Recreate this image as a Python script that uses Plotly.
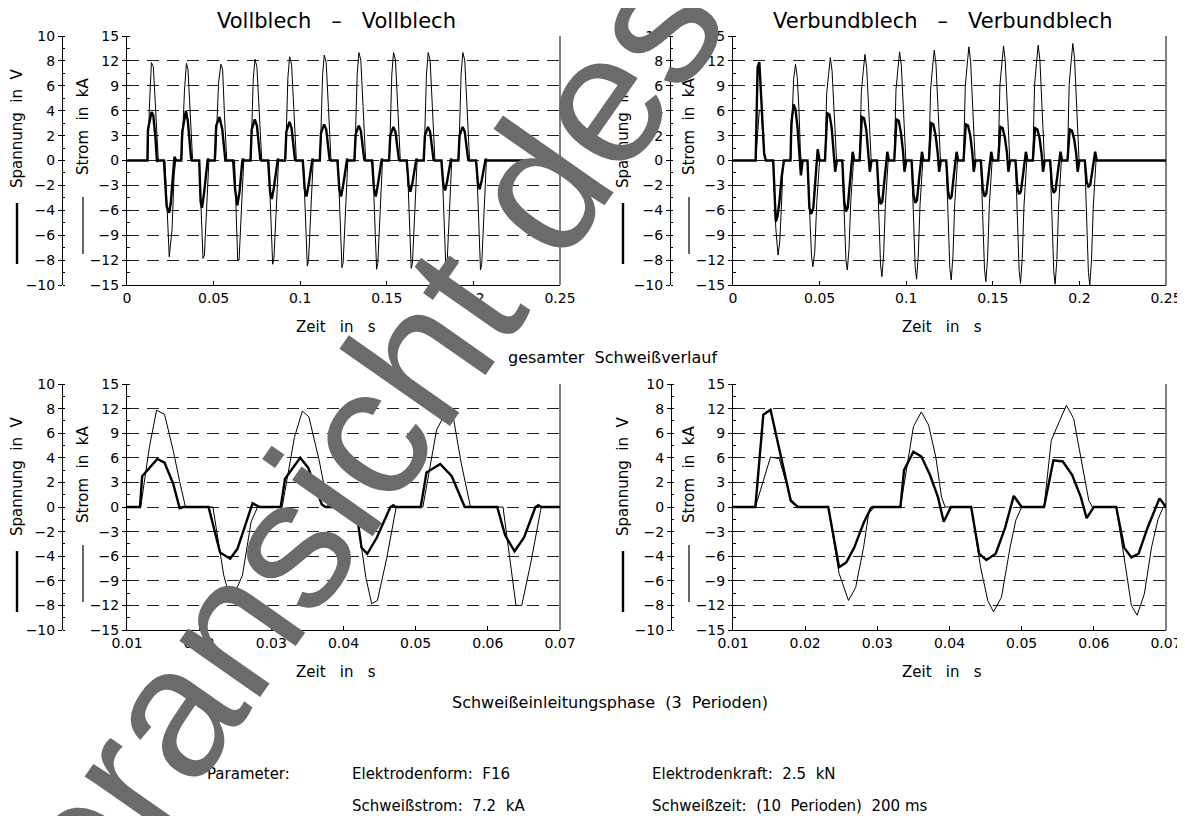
import plotly.graph_objects as go

# page body has an 8px margin: figure is sized so that it exactly fills the window
PAGE_W, PAGE_H = 1185, 816
OFF = 8
W, H = PAGE_W - OFF, PAGE_H - OFF

# ---------------- data (time in ms, current in kA, voltage in V) ----------------
VOLL_STROM_T = [0,
    11.9, 13.1, 14.1, 15.2, 16.4, 17.3, 18.1,
    21.9, 23.4, 24.4, 26.0, 27.2, 28.1,
    31.5, 33.2, 34.3, 35.2, 36.6, 37.9,
    41.7, 43.1, 43.9, 44.7, 46.0, 47.3,
    51.0, 52.9, 54.2, 55.2, 56.3, 57.6,
    62.1, 63.4, 63.9, 64.7, 66.0, 67.4,
    71.5, 72.9, 73.9, 75.0, 76.3, 77.8,
    81.8, 83.2, 84.1, 84.8, 86.0, 87.5,
    91.5, 92.9, 93.9, 95.0, 96.3, 97.8,
    101.8, 103.2, 104.1, 104.8, 106.0, 107.5,
    111.5, 112.9, 113.9, 115.0, 116.3, 117.8,
    121.8, 123.2, 124.1, 124.8, 126.0, 127.5,
    131.5, 132.9, 133.9, 135.0, 136.3, 137.8,
    141.8, 143.2, 144.1, 144.8, 146.0, 147.5,
    151.5, 152.9, 153.9, 155.0, 156.3, 157.8,
    161.8, 163.2, 164.1, 164.8, 166.0, 167.5,
    171.5, 172.9, 173.9, 175.0, 176.3, 177.8,
    181.8, 183.2, 184.1, 184.8, 186.0, 187.5,
    191.5, 192.9, 193.9, 195.0, 196.3, 197.8,
    201.8, 203.2, 204.1, 204.8, 206.0, 207.5,
    250]
VOLL_STROM = [0,
    0, 7.3, 11.8, 11.3, 6.9, 3.1, 0,
    0, -8.3, -11.6, -8.3, -1.8, 0,
    0, 8.5, 11.7, 11.0, 5.8, 0,
    0, -8.6, -11.8, -11.4, -6.2, 0,
    0, 9.4, 11.6, 11.0, 5.4, 0,
    0, -8.6, -12.0, -12.0, -6.6, 0,
    0, 9.8, 12.2, 11.3, 6.1, 0,
    0, -9.0, -12.5, -11.9, -6.3, 0,
    0, 10.0, 12.5, 11.6, 6.3, 0,
    0, -9.1, -12.7, -12.1, -6.4, 0,
    0, 10.2, 12.7, 11.8, 6.4, 0,
    0, -9.3, -12.9, -12.3, -6.5, 0,
    0, 10.4, 13.0, 12.1, 6.5, 0,
    0, -9.4, -13.1, -12.4, -6.6, 0,
    0, 10.4, 13.0, 12.1, 6.5, 0,
    0, -9.4, -13.0, -12.4, -6.5, 0,
    0, 10.4, 13.0, 12.1, 6.5, 0,
    0, -9.4, -13.0, -12.4, -6.5, 0,
    0, 10.4, 13.0, 12.1, 6.5, 0,
    0, -9.5, -13.2, -12.5, -6.6, 0,
    0]

VOLL_SPANNUNG_T = [0,
    11.8, 12.1, 13.1, 14.2, 15.2, 16.4, 17.3, 17.8,
    21.3, 22.9, 24.3, 25.3, 27.4, 28.4,
    31.3, 31.9, 34.0, 35.1, 37.0, 37.5,
    41.7, 42.5, 43.3, 44.6, 46.5, 46.9, 47.2,
    50.7, 51.5, 53.4, 55.0, 56.8,
    61.3, 62.4, 63.7, 65.0, 66.6, 67.0, 67.4,
    71.3, 72.0, 73.8, 75.0, 77.0, 77.5,
    81.5, 82.6, 83.6, 84.8, 86.7, 87.1, 87.5,
    91.3, 92.0, 93.8, 95.0, 97.0, 97.5,
    101.5, 102.6, 103.6, 104.8, 106.7, 107.1, 107.5,
    111.3, 112.0, 113.8, 115.0, 117.0, 117.5,
    121.5, 122.6, 123.6, 124.8, 126.7, 127.1, 127.5,
    131.3, 132.0, 133.8, 135.0, 137.0, 137.5,
    141.5, 142.6, 143.6, 144.8, 146.7, 147.1, 147.5,
    151.3, 152.0, 153.8, 155.0, 157.0, 157.5,
    161.5, 162.6, 163.6, 164.8, 166.7, 167.1, 167.5,
    171.3, 172.0, 173.8, 175.0, 177.0, 177.5,
    181.5, 182.6, 183.6, 184.8, 186.7, 187.1, 187.5,
    191.3, 192.0, 193.8, 195.0, 197.0, 197.5,
    201.5, 202.6, 203.6, 204.8, 206.7, 207.1, 207.5,
    250]
VOLL_SPANNUNG = [0,
    0, 2.5, 3.2, 3.9, 3.6, 1.9, -0.1, 0,
    0, -3.7, -4.2, -3.4, 0.3, 0,
    0, 2.3, 4.0, 3.2, 0.2, 0,
    0, -3.3, -3.8, -2.5, 0, 0.15, 0,
    0, 2.8, 3.5, 2.5, 0,
    0, -2.3, -3.6, -2.5, 0, 0.15, 0,
    0, 2.5, 3.3, 2.8, 0.05, 0,
    0, -2.5, -3.1, -2.2, 0, 0.15, 0,
    0, 2.3, 3.1, 2.6, 0.05, 0,
    0, -2.3, -2.9, -2.0, 0, 0.15, 0,
    0, 2.2, 2.9, 2.5, 0.05, 0,
    0, -2.3, -2.9, -2.0, 0, 0.15, 0,
    0, 2.1, 2.8, 2.4, 0.05, 0,
    0, -2.3, -2.9, -2.0, 0, 0.15, 0,
    0, 2.0, 2.7, 2.3, 0.05, 0,
    0, -2.0, -2.5, -1.8, 0, 0.15, 0,
    0, 2.0, 2.7, 2.3, 0.05, 0,
    0, -1.9, -2.4, -1.7, 0, 0.15, 0,
    0, 2.0, 2.7, 2.3, 0.05, 0,
    0, -1.8, -2.3, -1.6, 0, 0.15, 0,
    0]

VERB_STROM_T = [0,
    13.1, 15.2, 16.4, 18.0, 19.0,
    23.2, 24.7, 26.0, 27.0, 28.1, 28.8, 29.6,
    33.2, 35.0, 36.1, 37.1, 38.1, 38.9, 39.4,
    43.0, 44.3, 45.3, 46.1, 47.2, 48.4, 49.2, 50.0,
    53.1, 54.1, 55.2, 56.2, 57.2, 58.2, 59.3, 59.8,
    63.1, 64.4, 65.2, 66.0, 67.0, 68.0, 68.9, 69.6,
    73.1, 74.1, 75.2, 76.2, 77.2, 78.2, 79.3, 79.8,
    83.1, 84.4, 85.2, 86.0, 87.0, 88.0, 88.9, 89.6,
    93.1, 94.1, 95.2, 96.2, 97.2, 98.2, 99.3, 99.8,
    103.1, 104.4, 105.2, 106.0, 107.0, 108.0, 108.9, 109.6,
    113.1, 114.1, 115.2, 116.2, 117.2, 118.2, 119.3, 119.8,
    123.1, 124.4, 125.2, 126.0, 127.0, 128.0, 128.9, 129.6,
    133.1, 134.1, 135.2, 136.2, 137.2, 138.2, 139.3, 139.8,
    143.1, 144.4, 145.2, 146.0, 147.0, 148.0, 148.9, 149.6,
    153.1, 154.1, 155.2, 156.2, 157.2, 158.2, 159.3, 159.8,
    163.1, 164.4, 165.2, 166.0, 167.0, 168.0, 168.9, 169.6,
    173.1, 174.1, 175.2, 176.2, 177.2, 178.2, 179.3, 179.8,
    183.1, 184.4, 185.2, 186.0, 187.0, 188.0, 188.9, 189.6,
    193.1, 194.1, 195.2, 196.2, 197.2, 198.2, 199.3, 199.8,
    203.1, 204.4, 205.2, 206.0, 207.0, 208.0, 208.9, 209.6,
    250]
VERB_STROM = [0,
    0, 6.1, 5.9, 1.0, 0,
    0, -8.1, -11.4, -9.8, -4.9, -0.8, 0,
    0, 9.8, 11.6, 10.0, 6.1, 1.2, 0,
    0, -7.3, -11.4, -12.8, -11.0, -4.9, -1.6, 0,
    0, 8.1, 10.4, 12.4, 10.8, 6.1, 0.8, 0,
    0, -7.3, -12.0, -13.2, -10.6, -4.9, -1.5, 0,
    0, 8.3, 10.8, 12.8, 11.1, 6.3, 0.8, 0,
    0, -7.7, -12.6, -14.0, -11.2, -5.2, -1.5, 0,
    0, 8.5, 11.0, 13.1, 11.4, 6.4, 0.8, 0,
    0, -7.9, -12.9, -14.3, -11.4, -5.3, -1.6, 0,
    0, 8.6, 11.2, 13.3, 11.6, 6.5, 0.8, 0,
    0, -7.9, -13.0, -14.4, -11.5, -5.3, -1.6, 0,
    0, 8.9, 11.5, 13.7, 11.9, 6.7, 0.8, 0,
    0, -8.0, -13.1, -14.6, -11.7, -5.4, -1.6, 0,
    0, 9.0, 11.6, 13.8, 12.0, 6.8, 0.8, 0,
    0, -8.1, -13.3, -14.8, -11.8, -5.5, -1.6, 0,
    0, 9.0, 11.7, 13.9, 12.1, 6.8, 0.8, 0,
    0, -8.2, -13.4, -14.9, -11.9, -5.5, -1.6, 0,
    0, 9.2, 11.8, 14.1, 12.3, 6.9, 0.8, 0,
    0, -8.3, -13.5, -15.0, -12.0, -5.6, -1.7, 0,
    0]

VERB_SPANNUNG_T = [0,
    13.1, 14.2, 15.2, 18.0, 19.0,
    23.2, 24.7, 25.7, 26.8, 28.1, 29.1, 29.4,
    33.2, 33.7, 35.0, 36.1, 37.3, 38.4, 39.2, 40.2,
    43.0, 44.1, 45.1, 46.4, 47.7, 48.9, 50.0,
    53.1, 54.4, 55.7, 57.0, 58.2, 59.0, 60.0,
    63.1, 64.2, 65.2, 66.2, 67.5, 69.1, 70.0,
    73.1, 74.4, 75.7, 77.0, 78.2, 79.0, 80.0,
    83.1, 84.2, 85.2, 86.2, 87.5, 89.1, 90.0,
    93.1, 94.4, 95.7, 97.0, 98.2, 99.0, 100.0,
    103.1, 104.2, 105.2, 106.2, 107.5, 109.1, 110.0,
    113.1, 114.4, 115.7, 117.0, 118.2, 119.0, 120.0,
    123.1, 124.2, 125.2, 126.2, 127.5, 129.1, 130.0,
    133.1, 134.4, 135.7, 137.0, 138.2, 139.0, 140.0,
    143.1, 144.2, 145.2, 146.2, 147.5, 149.1, 150.0,
    153.1, 154.4, 155.7, 157.0, 158.2, 159.0, 160.0,
    163.1, 164.2, 165.2, 166.2, 167.5, 169.1, 170.0,
    173.1, 174.4, 175.7, 177.0, 178.2, 179.0, 180.0,
    183.1, 184.2, 185.2, 186.2, 187.5, 189.1, 190.0,
    193.1, 194.4, 195.7, 197.0, 198.2, 199.0, 200.0,
    203.1, 204.2, 205.2, 206.2, 207.5, 209.1, 210.0,
    250]
VERB_SPANNUNG = [0,
    0, 7.5, 7.9, 0.5, 0,
    0, -4.9, -4.5, -3.3, -1.3, -0.1, 0,
    0, 3.0, 4.5, 4.1, 2.6, 0.8, -1.2, 0,
    0, -3.8, -4.3, -3.8, -1.7, 0.9, 0,
    0, 3.8, 3.7, 2.6, 0.8, -0.9, 0,
    0, -3.3, -4.1, -3.8, -1.6, 0.7, 0,
    0, 3.5, 3.4, 2.4, 0.7, -0.9, 0,
    0, -2.8, -3.5, -3.3, -1.4, 0.7, 0,
    0, 3.3, 3.2, 2.2, 0.7, -0.9, 0,
    0, -2.7, -3.4, -3.2, -1.4, 0.7, 0,
    0, 3.0, 2.9, 2.0, 0.6, -0.9, 0,
    0, -2.5, -3.1, -2.9, -1.2, 0.7, 0,
    0, 2.9, 2.8, 2.0, 0.6, -0.9, 0,
    0, -2.3, -2.9, -2.7, -1.2, 0.7, 0,
    0, 2.7, 2.6, 1.8, 0.6, -0.9, 0,
    0, -2.2, -2.7, -2.5, -1.1, 0.7, 0,
    0, 2.6, 2.5, 1.8, 0.5, -0.9, 0,
    0, -2.1, -2.6, -2.4, -1.0, 0.7, 0,
    0, 2.5, 2.4, 1.7, 0.5, -0.9, 0,
    0, -1.7, -2.1, -2.0, -0.8, 0.7, 0,
    0]

TIME_TICKS_TOTAL = [0, 0.05, 0.1, 0.15, 0.2, 0.25]
TIME_LABELS_TOTAL = ["0", "0.05", "0.1", "0.15", "0.2", "0.25"]
TIME_TICKS_START = [0.01, 0.02, 0.03, 0.04, 0.05, 0.06, 0.07]
TIME_LABELS_START = ["0.01", "0.02", "0.03", "0.04", "0.05", "0.06", "0.07"]
STROM_TICKS = [-15, -12, -9, -6, -3, 0, 3, 6, 9, 12, 15]
SPANNUNG_TICKS = [-10, -8, -6, -4, -2, 0, 2, 4, 6, 8, 10]

TITLE_LEFT = "Vollblech   \u2013   Vollblech"
TITLE_RIGHT = "Verbundblech   \u2013   Verbundblech"
SECTION_TOTAL = "gesamter  Schwei\u00dfverlauf"
SECTION_START = "Schwei\u00dfeinleitungsphase  (3  Perioden)"
PARAMS = [
    ("Parameter:", 205, 774),
    ("Elektrodenform:  F16", 350, 774),
    ("Schwei\u00dfstrom:  7.2  kA", 350, 806),
    ("Elektrodenkraft:  2.5  kN", 650, 774),
    ("Schwei\u00dfzeit:  (10  Perioden)  200 ms", 650, 806),
]
WATERMARK = "Voransicht des"

# ---------------- helpers (screen pixel -> paper fraction) ----------------
FONT = "DejaVu Sans"


def pxx(x):
    return (x - OFF) / W


def pyy(y):
    return 1 - (y - OFF) / H


fig = go.Figure()

panels = [
    dict(x0=127, x1=560, yt=36, yb=285, vpos=62, ds="voll", rng=[0, 0.25],
         tv=TIME_TICKS_TOTAL, tt=TIME_LABELS_TOTAL),
    dict(x0=733, x1=1166, yt=36, yb=285, vpos=670, ds="verb", rng=[0, 0.25],
         tv=TIME_TICKS_TOTAL, tt=TIME_LABELS_TOTAL),
    dict(x0=127, x1=560, yt=384, yb=630, vpos=62, ds="voll", rng=[0.01, 0.07],
         tv=TIME_TICKS_START, tt=TIME_LABELS_START),
    dict(x0=733, x1=1166, yt=384, yb=630, vpos=671, ds="verb", rng=[0.01, 0.07],
         tv=TIME_TICKS_START, tt=TIME_LABELS_START),
]

datasets = {
    "voll": (VOLL_STROM_T, VOLL_STROM, VOLL_SPANNUNG_T, VOLL_SPANNUNG),
    "verb": (VERB_STROM_T, VERB_STROM, VERB_SPANNUNG_T, VERB_SPANNUNG),
}

tickfont = dict(family=FONT, size=14, color="black")
layout = {}
shapes = []
annotations = []

for i, p in enumerate(panels):
    n = i + 1
    xname = "x" if n == 1 else f"x{n}"
    ya = 2 * n - 1
    yb = 2 * n
    yaname = "y" if ya == 1 else f"y{ya}"
    ybname = f"y{yb}"
    xkey = "xaxis" if n == 1 else f"xaxis{n}"
    yakey = "yaxis" if ya == 1 else f"yaxis{ya}"
    ybkey = f"yaxis{yb}"

    layout[xkey] = dict(
        domain=[pxx(p["x0"]), pxx(p["x1"])], range=p["rng"], anchor=yaname,
        tickmode="array", tickvals=p["tv"], ticktext=p["tt"],
        showline=True, linecolor="black", linewidth=1, mirror=False,
        ticks="inside", ticklen=4, tickcolor="black", automargin=False,
        showgrid=False, zeroline=False, tickfont=tickfont, fixedrange=True,
    )
    layout[yakey] = dict(
        domain=[pyy(p["yb"]), pyy(p["yt"])], range=[-15, 15], anchor=xname,
        tickmode="array", tickvals=STROM_TICKS, automargin=False,
        showline=True, linecolor="black", linewidth=1,
        ticks="outside", ticklen=4, tickcolor="black",
        minor=dict(dtick=1.5, tick0=0, ticks="inside", ticklen=3,
                   tickcolor="black", showgrid=False),
        showgrid=True, gridcolor="#222222", gridwidth=1, griddash="12px,8px",
        zeroline=False, tickfont=tickfont, fixedrange=True,
    )
    layout[ybkey] = dict(
        overlaying=yaname, anchor="free", position=pxx(p["vpos"]), side="left",
        range=[-10, 10], tickmode="array", tickvals=SPANNUNG_TICKS, automargin=False,
        showline=True, linecolor="black", linewidth=1,
        ticks="outside", ticklen=4, tickcolor="black",
        minor=dict(dtick=1, tick0=0, ticks="inside", ticklen=2,
                   tickcolor="black", showgrid=False),
        showgrid=False, zeroline=False, tickfont=tickfont, fixedrange=True,
    )

    st, sv, ut, uv = datasets[p["ds"]]
    fig.add_trace(go.Scatter(
        x=[t / 1000 for t in st], y=sv, mode="lines", xaxis=xname, yaxis=yaname,
        line=dict(color="black", width=1), showlegend=False, hoverinfo="skip"))
    fig.add_trace(go.Scatter(
        x=[t / 1000 for t in ut], y=uv, mode="lines", xaxis=xname, yaxis=ybname,
        line=dict(color="black", width=2.4), showlegend=False, hoverinfo="skip"))

    shapes.append(dict(type="line", xref=f"{xname} domain", yref=f"{yaname} domain",
                       x0=1, x1=1, y0=0, y1=1, line=dict(color="black", width=1)))

    off = p["yt"] - 36
    left = p["x0"] - 127
    sx = 17 + left
    cx = 83 + left
    annotations.append(dict(text="Spannung  in  V", x=pxx(sx), y=pyy(128 + off),
                            xref="paper", yref="paper", showarrow=False, textangle=-90,
                            font=dict(family=FONT, size=15, color="black"),
                            xanchor="center", yanchor="middle"))
    shapes.append(dict(type="line", xref="paper", yref="paper", x0=pxx(sx), x1=pxx(sx),
                       y0=pyy(203 + off), y1=pyy(264 + off),
                       line=dict(color="black", width=2.4)))
    annotations.append(dict(text="Strom  in  kA", x=pxx(cx), y=pyy(127 + off),
                            xref="paper", yref="paper", showarrow=False, textangle=-90,
                            font=dict(family=FONT, size=15, color="black"),
                            xanchor="center", yanchor="middle"))
    shapes.append(dict(type="line", xref="paper", yref="paper", x0=pxx(cx), x1=pxx(cx),
                       y0=pyy(197 + off), y1=pyy(254 + off),
                       line=dict(color="black", width=1.2)))
    annotations.append(dict(text="Zeit   in   s", x=pxx((p["x0"] + p["x1"]) / 2 - 8),
                            y=pyy(p["yb"] + 42), xref="paper", yref="paper",
                            showarrow=False, font=dict(family=FONT, size=15, color="black"),
                            xanchor="center", yanchor="middle"))

annotations.append(dict(text=TITLE_LEFT, x=pxx(336), y=pyy(21), xref="paper", yref="paper",
                        xanchor="center", yanchor="middle", showarrow=False,
                        font=dict(family=FONT, size=21, color="black")))
annotations.append(dict(text=TITLE_RIGHT, x=pxx(943), y=pyy(21), xref="paper", yref="paper",
                        xanchor="center", yanchor="middle", showarrow=False,
                        font=dict(family=FONT, size=21, color="black")))
annotations.append(dict(text=SECTION_TOTAL, x=pxx(612), y=pyy(357), xref="paper",
                        yref="paper", xanchor="center", yanchor="middle", showarrow=False,
                        font=dict(family=FONT, size=16, color="black")))
annotations.append(dict(text=SECTION_START, x=pxx(610), y=pyy(702), xref="paper",
                        yref="paper", xanchor="center", yanchor="middle", showarrow=False,
                        font=dict(family=FONT, size=16, color="black")))
for txt, x, y in PARAMS:
    annotations.append(dict(text=txt, x=pxx(x), y=pyy(y), xref="paper", yref="paper",
                            xanchor="left", yanchor="middle", showarrow=False,
                            font=dict(family=FONT, size=15, color="black")))

annotations.append(dict(text=WATERMARK, x=pxx(330), y=pyy(484), xref="paper", yref="paper",
                        showarrow=False, textangle=-55, xanchor="center", yanchor="middle",
                        font=dict(family="Liberation Sans", size=186, color="#6b6b6b")))

fig.update_layout(
    width=W, height=H, margin=dict(l=0, r=0, t=0, b=0, pad=0, autoexpand=False),
    paper_bgcolor="white", plot_bgcolor="white",
    showlegend=False, shapes=shapes, annotations=annotations, **layout,
)

fig.write_html("out.html")
